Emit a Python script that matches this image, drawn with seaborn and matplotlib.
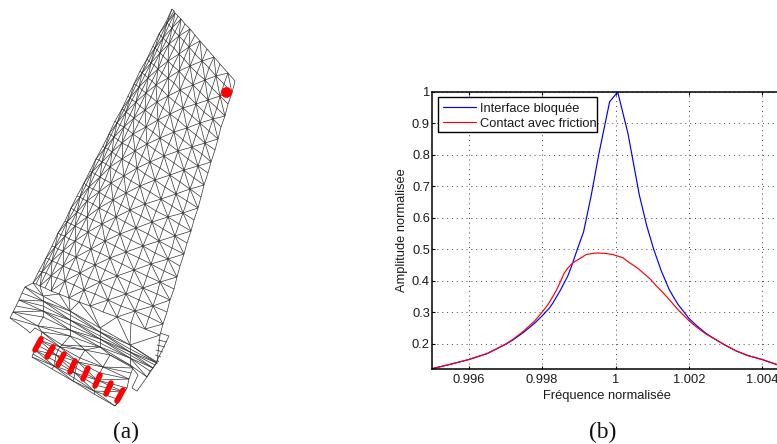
# -*- coding: utf-8 -*-
#%% Libraries

import numpy as np
import pandas as pd
import matplotlib
matplotlib.use('Agg')
import matplotlib.pyplot as plt
import seaborn as sns
from matplotlib.collections import LineCollection
from matplotlib.patches import Rectangle

#%% Data (b) : frequency responses

freq_blocked = [0.995, 0.9955, 0.996, 0.9965, 0.997, 0.9972, 0.9975, 0.9978, 0.998, 0.9982, 0.9983, 0.9985,
                0.9987, 0.9988, 0.99896, 0.99913, 0.99934, 0.99955, 0.99984, 1.00006, 1.00034, 1.00065,
                1.00085, 1.00104, 1.00125, 1.00147, 1.0017, 1.002, 1.0022, 1.00247, 1.00274, 1.003, 1.0033,
                1.0036, 1.004, 1.0044, 1.005]
amp_blocked = [0.12, 0.134, 0.149, 0.168, 0.197, 0.211, 0.236, 0.265, 0.288, 0.313, 0.33, 0.37,
               0.415, 0.445, 0.5, 0.555, 0.672, 0.805, 0.969, 1.0, 0.868, 0.672,
               0.575, 0.5, 0.43, 0.37, 0.325, 0.28, 0.258, 0.232, 0.212, 0.194, 0.176,
               0.162, 0.149, 0.133, 0.12]

freq_friction = [0.995, 0.9955, 0.996, 0.9965, 0.997, 0.9972, 0.9975, 0.9978, 0.998, 0.99815, 0.99829, 0.9984,
                 0.9985, 0.9986, 0.9987, 0.99884, 0.999, 0.9992, 0.9994, 0.99952, 0.9997, 0.99993, 1.0002,
                 1.00038, 1.0006, 1.00075, 1.00093, 1.0011, 1.0013, 1.00147, 1.0017, 1.002, 1.0022, 1.00247,
                 1.00274, 1.003, 1.0033, 1.0036, 1.004, 1.0044, 1.005]
amp_friction = [0.12, 0.134, 0.149, 0.168, 0.198, 0.213, 0.24, 0.272, 0.30, 0.322, 0.349, 0.372,
                0.397, 0.423, 0.44, 0.457, 0.468, 0.483, 0.487, 0.488, 0.487, 0.483, 0.473,
                0.457, 0.44, 0.425, 0.407, 0.385, 0.361, 0.339, 0.308, 0.273, 0.253, 0.23,
                0.212, 0.194, 0.176, 0.162, 0.149, 0.133, 0.12]

x_ticks = [0.996, 0.998, 1, 1.002, 1.004]
x_tick_labels = ['0.996', '0.998', '1', '1.002', '1.004']
y_ticks = [0.2, 0.3, 0.4, 0.5, 0.6, 0.7, 0.8, 0.9, 1]
y_tick_labels = ['0.2', '0.3', '0.4', '0.5', '0.6', '0.7', '0.8', '0.9', '1']

#%% Data (a) : mesh nodes, in image pixels

blade_x = [
    [172, 174, 175, 178, 181, 185, 190, 195, 200, 207, 214, 220, 228, 235],
    [166, 167, 169, 172, 175, 179, 184, 189, 195, 202, 209, 216, 224, 232],
    [159, 161, 163, 166, 169, 174, 179, 184, 190, 197, 205, 212, 220, 228],
    [153, 155, 157, 160, 163, 168, 173, 179, 185, 193, 200, 208, 217, 225],
    [147, 149, 151, 154, 158, 162, 168, 174, 180, 188, 196, 204, 213, 221],
    [140, 142, 145, 148, 152, 156, 162, 168, 175, 183, 192, 200, 209, 218],
    [134, 136, 139, 142, 146, 151, 157, 163, 170, 178, 187, 196, 205, 215],
    [128, 130, 132, 136, 140, 145, 151, 158, 165, 174, 183, 192, 202, 211],
    [122, 124, 126, 130, 134, 139, 146, 153, 160, 169, 178, 188, 198, 208],
    [115, 117, 120, 124, 128, 133, 140, 147, 155, 164, 174, 184, 194, 204],
    [109, 111, 114, 118, 122, 128, 135, 142, 150, 160, 170, 180, 190, 201],
    [103, 105, 108, 112, 116, 122, 129, 137, 145, 155, 165, 176, 187, 198],
    [96, 99, 102, 106, 110, 116, 124, 131, 140, 150, 161, 172, 183, 194],
    [90, 92, 95, 100, 105, 111, 118, 126, 135, 145, 156, 168, 179, 191],
    [84, 86, 89, 93, 99, 105, 113, 121, 130, 141, 152, 163, 175, 187],
    [77, 80, 83, 87, 93, 99, 107, 116, 125, 136, 148, 159, 172, 184],
    [71, 74, 77, 81, 87, 93, 102, 110, 120, 131, 143, 155, 168, 180],
    [65, 67, 71, 75, 81, 88, 96, 105, 115, 126, 139, 151, 164, 177],
    [58, 61, 65, 69, 75, 82, 91, 100, 110, 122, 134, 147, 160, 174],
    [52, 55, 58, 63, 69, 76, 85, 95, 105, 117, 130, 143, 157, 170],
    [46, 49, 52, 57, 63, 70, 80, 89, 100, 112, 126, 139, 153, 167],
    [39, 42, 46, 51, 57, 65, 74, 84, 95, 108, 121, 135, 149, 163],
    [33, 36, 40, 45, 51, 59, 69, 79, 90, 103, 117, 131, 145, 160],
]
blade_y = [
    [9, 11, 13, 16, 19, 24, 29, 35, 41, 49, 57, 64, 73, 81],
    [22, 23, 25, 28, 32, 36, 41, 47, 54, 61, 68, 76, 84, 93],
    [34, 36, 38, 41, 44, 48, 54, 59, 66, 73, 80, 88, 96, 104],
    [46, 48, 50, 53, 56, 61, 66, 71, 78, 85, 92, 100, 108, 116],
    [59, 61, 63, 65, 69, 73, 78, 83, 90, 96, 104, 112, 119, 127],
    [71, 73, 75, 78, 81, 85, 90, 96, 102, 108, 116, 123, 131, 139],
    [84, 85, 87, 90, 93, 97, 102, 108, 114, 120, 128, 135, 143, 150],
    [96, 98, 100, 102, 106, 110, 115, 120, 126, 132, 140, 147, 154, 162],
    [109, 110, 112, 115, 118, 122, 127, 132, 138, 144, 151, 159, 166, 173],
    [121, 123, 125, 127, 130, 134, 139, 144, 150, 156, 163, 170, 178, 185],
    [134, 135, 137, 140, 143, 146, 151, 156, 162, 168, 175, 182, 189, 197],
    [146, 148, 149, 152, 155, 159, 163, 168, 174, 180, 187, 194, 201, 208],
    [159, 160, 162, 164, 167, 171, 176, 181, 186, 192, 199, 206, 213, 220],
    [171, 172, 174, 177, 180, 183, 188, 193, 198, 204, 211, 217, 224, 231],
    [183, 185, 187, 189, 192, 196, 200, 205, 210, 216, 222, 229, 236, 243],
    [196, 197, 199, 201, 204, 208, 212, 217, 222, 228, 234, 241, 248, 254],
    [208, 210, 212, 214, 217, 220, 224, 229, 234, 240, 246, 253, 259, 266],
    [221, 222, 224, 226, 229, 232, 237, 241, 246, 252, 258, 264, 271, 277],
    [233, 235, 236, 239, 241, 245, 249, 253, 258, 264, 270, 276, 282, 289],
    [246, 247, 249, 251, 254, 257, 261, 265, 270, 276, 282, 288, 294, 300],
    [258, 259, 261, 263, 266, 269, 273, 278, 282, 288, 294, 300, 306, 312],
    [271, 272, 273, 276, 278, 281, 285, 290, 294, 300, 306, 311, 317, 324],
    [283, 284, 286, 288, 291, 294, 298, 302, 306, 312, 317, 323, 329, 335],
]

platform_x = [
    [25, 43, 70, 100, 130, 157],
    [22, 43, 70, 100, 130, 157],
    [19, 43, 70, 100, 130, 155],
    [16, 43, 70, 100, 130, 153],
    [13, 43, 70, 100, 130, 150],
    [10, 38, 70, 100, 130, 147],
]
platform_y = [
    [287, 296, 311, 328, 345, 362],
    [293, 301, 315, 332, 349, 363],
    [300, 306, 320, 336, 352, 365],
    [306, 311, 325, 339, 355, 368],
    [312, 317, 330, 343, 358, 371],
    [318, 326, 336, 347, 365, 377],
]

block_x = [
    [42, 62, 85, 110, 133],
    [41, 60, 80, 103, 131],
    [39, 58, 78, 100, 129],
    [37, 56, 76, 97, 127],
    [35, 55, 75, 95, 124],
    [33, 54, 74, 94, 120],
    [32, 52, 73, 94, 115],
]
block_y = [
    [332, 345, 350, 355, 368],
    [336, 347, 358, 367, 373],
    [340, 350, 362, 373, 379],
    [345, 355, 368, 380, 388],
    [350, 361, 373, 385, 392],
    [354, 366, 378, 391, 400],
    [357, 369, 381, 394, 406],
]

# outline bits and links between the three meshed parts
extra_lines = [
    [(10, 318), (27, 330), (30, 333), (35, 328), (42, 332)],
    [(147, 377), (137, 391), (132, 388), (138, 375), (130, 365)],
    [(160, 333), (169, 336), (155, 365), (147, 377)],
    [(160, 335), (157, 362)],
    [(158, 340), (167, 342)],
    [(157, 345), (165, 347)],
    [(156, 350), (163, 352)],
    [(155, 355), (161, 357)],
    [(157, 360), (159, 362)],
    [(33, 283), (25, 287)],
    [(33, 283), (43, 296), (59, 294), (70, 311), (79, 302), (100, 328), (117, 317), (130, 345), (160, 335)],
    [(40, 286), (43, 296)],
    [(69, 298), (70, 311)],
    [(90, 306), (100, 328)],
    [(131, 323), (130, 345)],
    [(38, 326), (42, 332), (70, 336), (62, 345), (100, 347), (85, 350), (70, 336)],
    [(100, 347), (110, 355), (130, 365), (133, 368)],
    [(115, 406), (120, 400), (124, 392), (127, 388)],
]

# red points : tip sensor and the contact lines of the root
sensor_x = [226]
sensor_y = [92]
contact_x = [(41, 35), (53, 47), (64, 58), (75, 70), (88, 83), (100, 95), (111, 106), (123, 117)]
contact_y = [(339, 350), (347, 357), (354, 365), (361, 372), (368, 379), (375, 386), (383, 394), (390, 401)]

#%% Figure

W, H = 777, 444
sns.set_theme(style='white')
plt.rcParams['font.family'] = ['Liberation Sans', 'DejaVu Sans']
plt.rcParams['font.size'] = 9.3

fig = plt.figure(figsize=(W/100, H/100), dpi=100)

#%% Panel (a)

ax0 = fig.add_axes([0, 0, 1, 1])
ax0.set_xlim(0, W)
ax0.set_ylim(H, 0)
ax0.axis('off')


def mesh_segments(gx, gy):
    gx, gy = np.array(gx), np.array(gy)
    pts = np.dstack([gx, gy])
    segs = []
    for i in range(pts.shape[0]):
        for j in range(pts.shape[1]):
            if j+1 < pts.shape[1]:
                segs.append([pts[i, j], pts[i, j+1]])
            if i+1 < pts.shape[0]:
                segs.append([pts[i, j], pts[i+1, j]])
            if i+1 < pts.shape[0] and j+1 < pts.shape[1]:
                if (i+j) % 2 == 0:
                    segs.append([pts[i, j], pts[i+1, j+1]])
                else:
                    segs.append([pts[i, j+1], pts[i+1, j]])
    return segs


segments = mesh_segments(blade_x, blade_y) + mesh_segments(platform_x, platform_y) + mesh_segments(block_x, block_y)
segments += extra_lines
ax0.add_collection(LineCollection(segments, colors='#333333', linewidths=0.5))

for cx, cy in zip(contact_x, contact_y):
    ax0.plot(cx, cy, color='#ff0000', lw=4.0, solid_capstyle='round', zorder=3)
sns.scatterplot(x=sensor_x, y=sensor_y, color='#ff0000', s=60, linewidth=0, ax=ax0, zorder=4, legend=False)

fig.text(126/W, 1-432/H, '(a)', family='Liberation Serif', fontsize=16.8, color='#111111', ha='center', va='center')
fig.text(603/W, 1-432/H, '(b)', family='Liberation Serif', fontsize=16.8, color='#111111', ha='center', va='center')

#%% Panel (b)

# the right end of the axes falls outside the picture, as in the original
ax1 = fig.add_axes([432/W, 1-368.7/H, (799-432)/W, (368.7-92)/H])
ax1.patch.set_alpha(0)

df_blocked = pd.DataFrame({'freq': freq_blocked, 'amp': amp_blocked})
df_friction = pd.DataFrame({'freq': freq_friction, 'amp': amp_friction})
sns.lineplot(data=df_blocked, x='freq', y='amp', color='#0000ff', lw=0.85, estimator=None, sort=False,
             ax=ax1, label='Interface bloquée')
sns.lineplot(data=df_friction, x='freq', y='amp', color='#ff0000', lw=0.85, estimator=None, sort=False,
             ax=ax1, label='Contact avec friction')

ax1.set_xlim(0.995, 1.005)
ax1.set_ylim(0.12, 1)
ax1.set_xticks(x_ticks)
ax1.set_xticklabels(x_tick_labels)
ax1.set_yticks(y_ticks)
ax1.set_yticklabels(y_tick_labels)
ax1.tick_params(direction='in', length=2.5, width=0.8, color='black', labelsize=9.3, labelcolor='#1a1a1a', pad=4,
                bottom=True, left=True, top=True, right=True)
ax1.tick_params(axis='y', pad=1.5)
ax1.grid(True, color='#444444', lw=0.7, ls=(0, (1, 4)))
for s in ax1.spines.values():
    s.set_visible(True)
    s.set_color('black')
    s.set_linewidth(1.1)

ax1.set_xlabel('Fréquence normalisée', fontsize=9.3, color='#1a1a1a', labelpad=2.5)
ax1.xaxis.label.set_x((607-432)/(799-432))
ax1.set_ylabel('Amplitude normalisée', fontsize=9.3, color='#1a1a1a', labelpad=2.5)

# matlab legend box : text nearly touches the right edge, so the frame is separate
ax1.add_patch(Rectangle((437.7/W, 1-132/H), 159/W, 34.7/H, transform=fig.transFigure, fc='white', ec='black', lw=1.0, zorder=4.5))
leg = ax1.legend(loc='upper left', bbox_to_anchor=(437.7/W, 1-97.3/H), bbox_transform=fig.transFigure,
                 frameon=False, fontsize=9.3, borderpad=0.42, borderaxespad=0, handlelength=2.56, handletextpad=0.3,
                 labelspacing=0.22, labelcolor='#1a1a1a')
leg.set_zorder(5)

fig.savefig('out.png', dpi=100)
